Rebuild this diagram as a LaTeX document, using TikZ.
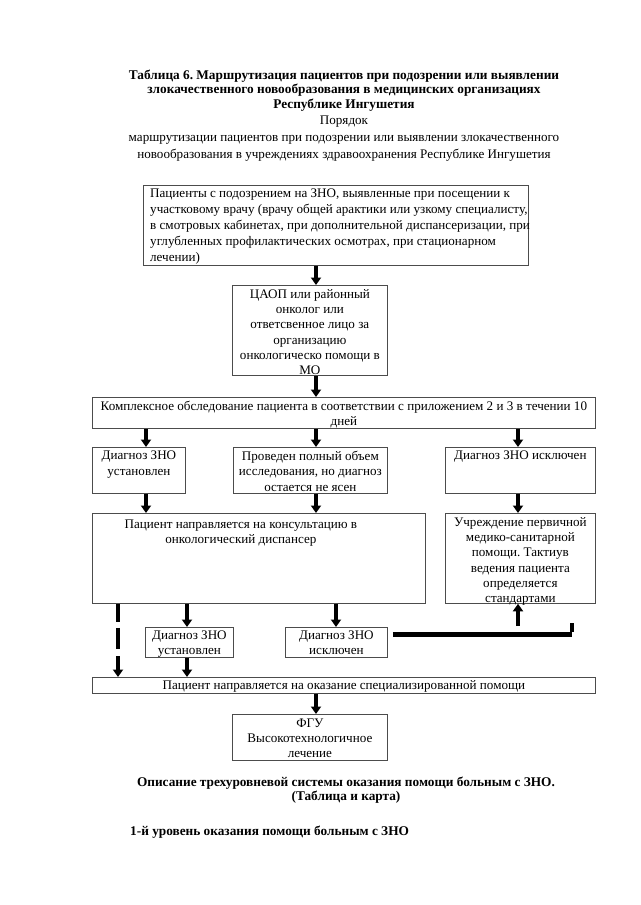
\documentclass[tikz,border=0pt]{standalone}
\usepackage{fontspec}
\setmainfont{Liberation Serif}
\usetikzlibrary{arrows.meta}
\frenchspacing
\newcommand\fsn{\fontsize{13.1}{15.3}\selectfont}
\newcommand\fsb{\fontsize{13.3}{14.2}\selectfont\bfseries}
\begin{document}
\begin{tikzpicture}[x=1pt,y=-1pt,
  box/.style={draw=black!70, line width=0.8pt, inner sep=0pt, anchor=north west},
  txt/.style={inner sep=0pt, align=center, font=\fsn, anchor=north},
  arr/.style={line width=3.4pt, -{Triangle[width=10pt,length=7.5pt]}},
  thickln/.style={line width=5pt},
  dashln/.style={line width=3.4pt, dash pattern=on 18pt off 6pt on 21pt off 200pt}]
\useasboundingbox[fill=white] (0,0) rectangle (640,905);

% titles
\node[txt, font=\fsb] (t1) at (344,70) {Таблица 6. Маршрутизация пациентов при подозрении или выявлении\\злокачественного новообразования в медицинских организациях\\Республике Ингушетия};
\node[txt, font=\fontsize{13.1}{17}\selectfont] (t2) at (344,115.5) {Порядок\\маршрутизации пациентов при подозрении или выявлении злокачественного\\новообразования в учреждениях здравоохранения Республике Ингушетия};

% columns
\coordinate (c0) at (118,0);
\coordinate (c1) at (146,0);
\coordinate (c2) at (316,0);
\coordinate (c3) at (518,0);
\coordinate (c4) at (187,0);
\coordinate (c5) at (336,0);

% boxes
\node[box, minimum width=385pt, minimum height=80pt] (b1) at (143,185) {};
\node[txt, anchor=north west, align=left, font=\fontsize{13.1}{16}\selectfont] (b1t) at ([xshift=7pt,yshift=-4pt]b1.north west) {Пациенты с подозрением на ЗНО, выявленные при посещении к\\участковому врачу (врачу общей арактики или узкому специалисту,\\в смотровых кабинетах, при дополнительной диспансеризации, при\\углубленных профилактических осмотрах, при стационарном\\лечении)};

\node[box, minimum width=155pt, minimum height=90pt] (b2) at (232,285) {};
\node[txt] (b2t) at ([yshift=-4pt]b2.north) {ЦАОП или районный\\онколог или\\ответсвенное лицо за\\организацию\\онкологическо помощи в\\МО};

\node[box, minimum width=503pt, minimum height=31pt] (b3) at (92,397) {};
\node[txt] (b3t) at ([yshift=-3.5pt]b3.north) {Комплексное обследование пациента в соответствии с приложением 2 и 3 в течении 10\\дней};

\node[box, minimum width=93pt, minimum height=46pt] (b4a) at (92,447) {};
\node[txt] (b4at) at ([yshift=-4pt]b4a.north) {Диагноз ЗНО\\установлен};
\node[box, minimum width=154pt, minimum height=46pt] (b4b) at (233,447) {};
\node[txt] (b4bt) at ([yshift=-4pt]b4b.north) {Проведен полный объем\\исследования, но диагноз\\остается не ясен};
\node[box, minimum width=150pt, minimum height=46pt] (b4c) at (445,447) {};
\node[txt] (b4ct) at ([yshift=-4pt]b4c.north) {Диагноз ЗНО исключен};

\node[box, minimum width=333pt, minimum height=90pt] (b5) at (92,513) {};
\node[txt] (b5t) at ([xshift=-18pt,yshift=-6.5pt]b5.north) {Пациент направляется на консультацию в\\онкологический диспансер};
\node[box, minimum width=150pt, minimum height=90pt] (b6) at (445,513) {};
\node[txt] (b6t) at ([yshift=-4pt]b6.north) {Учреждение первичной\\медико-санитарной\\помощи. Тактиув\\ведения пациента\\определяется\\стандартами};

\node[box, minimum width=88pt, minimum height=30pt] (b7a) at (145,627) {};
\node[txt] (b7at) at ([yshift=-3.5pt]b7a.north) {Диагноз ЗНО\\установлен};
\node[box, minimum width=102pt, minimum height=30pt] (b7b) at (285,627) {};
\node[txt] (b7bt) at ([yshift=-3.5pt]b7b.north) {Диагноз ЗНО\\исключен};

\node[box, minimum width=503pt, minimum height=16pt] (b8) at (92,677) {};
\node[txt] (b8t) at ([yshift=-3pt]b8.north) {Пациент направляется на оказание специализированной помощи};

\node[box, minimum width=155pt, minimum height=46pt] (b9) at (232,714) {};
\node[txt] (b9t) at ([yshift=-4.5pt]b9.north) {ФГУ\\Высокотехнологичное\\лечение};

% arrows
\draw[arr] (b1.south -| c2) -- (b2.north -| c2);
\draw[arr] (b2.south -| c2) -- (b3.north -| c2);
\draw[arr] (b3.south -| c1) -- (b4a.north -| c1);
\draw[arr] (b3.south -| c2) -- (b4b.north -| c2);
\draw[arr] (b3.south -| c3) -- (b4c.north -| c3);
\draw[arr] (b4a.south -| c1) -- (b5.north -| c1);
\draw[arr] (b4b.south -| c2) -- (b5.north -| c2);
\draw[arr] (b4c.south -| c3) -- (b6.north -| c3);
\draw[arr] (b5.south -| c4) -- (b7a.north -| c4);
\draw[arr] (b5.south -| c5) -- (b7b.north -| c5);
\draw[arr] (b7a.south -| c4) -- (b8.north -| c4);
\draw[arr] (b8.south -| c2) -- (b9.north -| c2);
% dashed left connector
\coordinate (d1) at (118,656);
\draw[dashln] (b5.south -| c0) -- (d1);
\draw[arr] (d1) -- (b8.north -| c0);
% return line to primary care
\coordinate (ls) at ([xshift=5pt]b7b.east);
\coordinate (lk) at (572,634);
\draw[thickln] (ls |- lk) -- (lk);
\draw[line width=3.4pt] ([yshift=2.5pt]lk) -- ++(0,-9);
\coordinate (ua) at (518,626);
\draw[arr] (ua) -- (b6.south -| c3);

% bottom text
\node[txt, font=\fsb] (t3) at (346,777) {Описание трехуровневой системы оказания помощи больным с ЗНО.\\(Таблица и карта)};
\node[txt, font=\fsb, anchor=north west] (t4) at (130,825.5) {1-й уровень оказания помощи больным с ЗНО};
\end{tikzpicture}
\end{document}
